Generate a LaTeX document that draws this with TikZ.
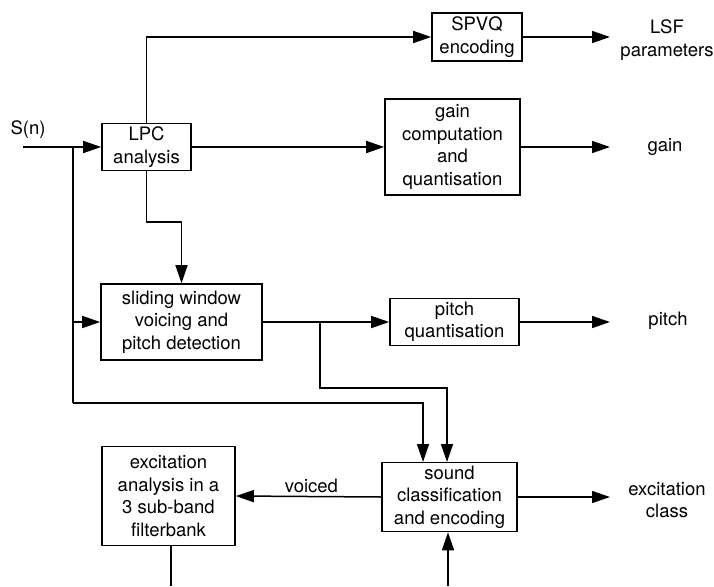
\documentclass[tikz,border=0pt]{standalone}
\usepackage{fontspec}
\setmainfont{TeX Gyre Heros}
\usetikzlibrary{arrows.meta,calc}
\tikzset{
  blk/.style={draw, line width=1.6pt, align=center, inner sep=0pt,
    font=\fontsize{18.5}{22.5}\selectfont},
  lbl/.style={align=center, inner sep=0pt, font=\fontsize{18.5}{22.5}\selectfont},
  wire/.style={line width=1.5pt},
  arr/.style={wire, -{Triangle[length=18pt,width=12pt]}}
}
\begin{document}
\begin{tikzpicture}[x=1pt,y=-1pt]
\useasboundingbox (0,0) rectangle (714,586);

% processing blocks
\node[blk, minimum width=89pt,  minimum height=47pt] (lpc)   at (146.5,147) {LPC\\analysis};
\node[blk, minimum width=90pt,  minimum height=48pt] (spvq)  at (477,37)    {SPVQ\\encoding};
\node[blk, minimum width=135pt, minimum height=96pt] (gain)  at (452.5,147) {gain\\computation\\and\\quantisation};
\node[blk, minimum width=161pt, minimum height=76pt] (slide) at (181.5,322) {sliding window\\voicing and\\pitch detection};
\node[blk, minimum width=129pt, minimum height=47pt] (pq)    at (454.5,322) {pitch\\quantisation};
\node[blk, minimum width=135pt, minimum height=69pt] (sound) at (449.5,497) {sound\\classification\\and encoding};
\node[blk, minimum width=133pt, minimum height=99pt] (exc)   at (168.5,496) {excitation\\analysis in a\\3 sub-band\\filterbank};

% output labels
\node[lbl] (olsf)   at (667,40)  {LSF\\parameters};
\node[lbl] (ogain)  at (665,147) {gain};
\node[lbl] (opitch) at (668,321) {pitch};
\node[lbl] (oexc)   at (667,500) {excitation\\class};
\node[lbl] (sn)     at (28,130)  {S(n)};

% helper points
\coordinate (in)    at (23,147);
\coordinate (split) at (73,147);
\coordinate (lowL)  at (73,403);
\coordinate (k1)    at (146.5,222);
\coordinate (k2)    at (320,322);
\coordinate (k3)    at (320,388);
\coordinate (o1)    at (610,37);
\coordinate (o2)    at (610,147);
\coordinate (o3)    at (610,322);
\coordinate (o4)    at (610,497);
\coordinate (b1)    at (171,586);
\coordinate (b2)    at (448,586);

% input and LPC branches
\draw[arr] (in) -- (lpc.west);
\draw[wire] (split) -- (lowL);
\draw[arr] (73,322) -- (slide.west);
\draw[arr] (lowL) -| (423,462);
\draw[arr] (lpc.north) |- (spvq.west);
\draw[arr] (lpc.east) -- (gain.west);
\draw[arr] (lpc.south) -- (k1) -| (slide.north);

% pitch path
\draw[arr] (slide.east) -- (pq.west);
\draw[arr] (k2) -- (k3) -| (447,462);

% outputs
\draw[arr] (spvq.east) -- (o1);
\draw[arr] (gain.east) -- (o2);
\draw[arr] (pq.east) -- (o3);
\draw[arr] (sound.east) -- (o4);

% excitation path
\draw[arr] (sound.west) -- node[pos=0.48, above=3pt, lbl] (vlbl) {voiced} (exc.east);
\draw[wire] (exc.south -| b1) -- (b1);
\draw[arr] (b2) -- (sound.south -| b2);
\end{tikzpicture}
\end{document}
